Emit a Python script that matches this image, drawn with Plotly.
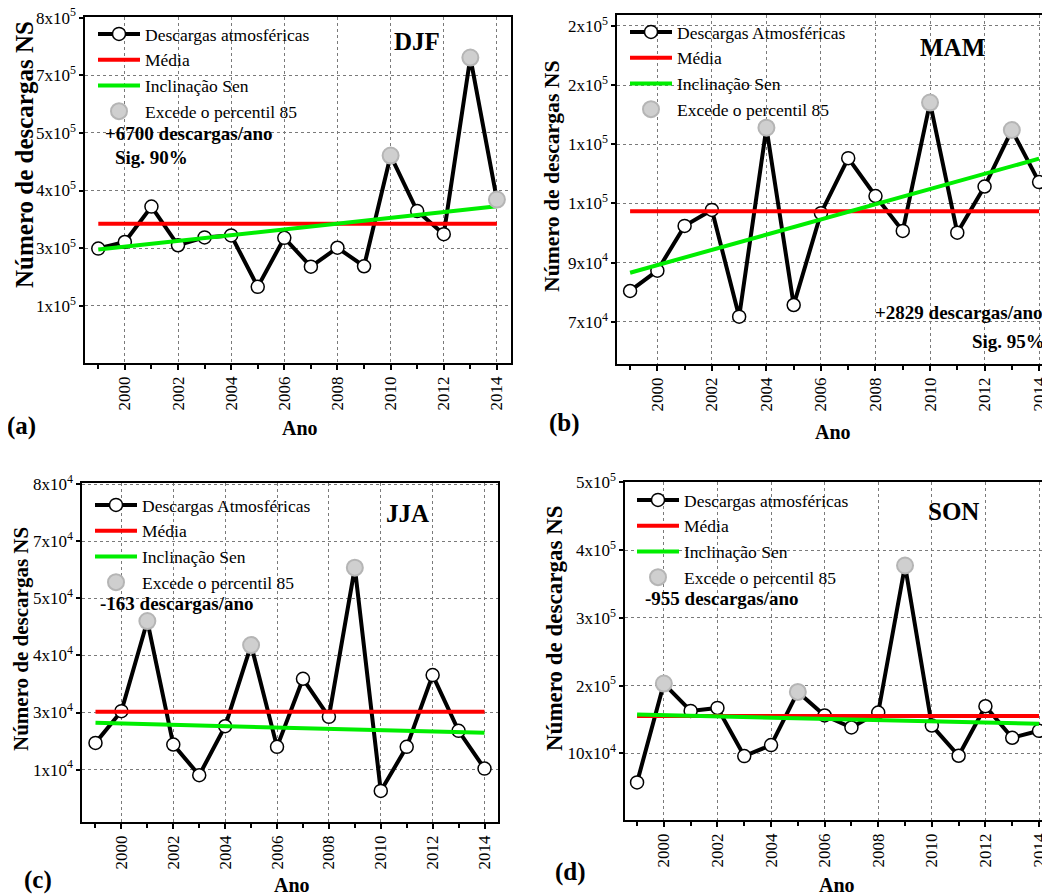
import plotly.graph_objects as go
import numpy as np

W, H = 1050, 895
OX, OY = 8, 8  # page body offset compensation
FONT = "Liberation Serif"

years = list(range(1999, 2015))

# Seasonal lightning counts
djf = [259000, 275000, 361000, 267000, 286000, 291000, 166000, 285000,
       215000, 261000, 216000, 485000, 350000, 294000, 723000, 378000]
mam = [80400, 87250, 102400, 107800, 71700, 135600, 75650, 106700,
       125300, 112500, 100700, 144100, 100100, 115700, 134800, 117200]
jja = [18550, 26330, 48430, 18140, 10610, 22640, 42540, 17570,
       34270, 24940, 61530, 6760, 17570, 35170, 21500, 12250]
son = [57300, 203100, 162800, 167200, 96100, 112300, 190800, 156000,
       138300, 160400, 377300, 141200, 96600, 169700, 123100, 133400]

# Sen slope line end values (1999, 2014)
sen_djf = [256500, 361500]
sen_mam = [86570, 125130]
sen_jja = [23460, 21010]
sen_son = [157400, 143700]

# Y tick positions and labels
yt_djf = [120000, 260000, 400000, 540000, 680000, 820000]
yl_djf = ["1x10<sup>5</sup>", "3x10<sup>5</sup>", "4x10<sup>5</sup>",
          "5x10<sup>5</sup>", "7x10<sup>5</sup>", "8x10<sup>5</sup>"]
yt_mam = [70000, 90000, 110000, 130000, 150000, 170000]
yl_mam = ["7x10<sup>4</sup>", "9x10<sup>4</sup>", "1x10<sup>5</sup>",
          "1x10<sup>5</sup>", "2x10<sup>5</sup>", "2x10<sup>5</sup>"]
yt_jja = [12000, 26000, 40000, 54000, 68000, 82000]
yl_jja = ["1x10<sup>4</sup>", "3x10<sup>4</sup>", "4x10<sup>4</sup>",
          "5x10<sup>4</sup>", "7x10<sup>4</sup>", "8x10<sup>4</sup>"]
yt_son = [100000, 200000, 300000, 400000, 500000]
yl_son = ["10x10<sup>4</sup>", "2x10<sup>5</sup>", "3x10<sup>5</sup>",
          "4x10<sup>5</sup>", "5x10<sup>5</sup>"]

series_names = ["Descargas atmosféricas", "Descargas Atmosféricas",
                "Descargas Atmosféricas", "Descargas atmosféricas"]
seasons = ["DJF", "MAM", "JJA", "SON"]
trend_texts = ["+6700 descargas/ano", "+2829 descargas/ano",
               "-163 descargas/ano", "-955 descargas/ano"]
sig_texts = ["Sig. 90%", "Sig. 95%", None, None]
panel_tags = ["(a)", "(b)", "(c)", "(d)"]


def px(x):
    return (x - OX) / W


def py(y):
    return 1 - (y - OY) / H


panels = [
    dict(vals=djf, sen=sen_djf, yt=yt_djf, yl=yl_djf,
         box=(85, 511, 17, 363), xr=[1998.5, 2014.53], yr=[-19000, 821500],
         leg=(93, 16), season=(417, 42), trend=(103, 134, "left"), sig=(113, 157, "left"),
         tag=(5, 426), ano=(300, 428), ytitle=(24, 155, 25), rmirror=True),
    dict(vals=mam, sen=sen_mam, yt=yt_mam, yl=yl_mam,
         box=(617, 1050, 15, 364), xr=[1998.52, 2014.40], yr=[55700, 173700],
         leg=(625, 14), season=(952, 48), trend=(1045, 313, "right"), sig=(1047, 342, "right"),
         tag=(547, 423), ano=(833, 432), ytitle=(552, 176, 21.7), rmirror=False),
    dict(vals=jja, sen=sen_jja, yt=yt_jja, yl=yl_jja,
         box=(82, 498, 483, 822), xr=[1998.48, 2014.52], yr=[-860, 82300],
         leg=(90, 487), season=(407, 513), trend=(98, 603, "left"), sig=None,
         tag=(22, 880), ano=(292, 885), ytitle=(21, 639, 21), rmirror=True),
    dict(vals=son, sen=sen_son, yt=yt_son, yl=yl_son,
         box=(625, 1050, 482, 820), xr=[1998.55, 2014.41], yr=[1800, 500500],
         leg=(632, 482), season=(953, 512), trend=(643, 598, "left"), sig=None,
         tag=(553, 872), ano=(837, 885), ytitle=(554, 628, 23), rmirror=False),
]

fig = go.Figure()
annotations = []
layout = dict()

for i, p in enumerate(panels):
    n = i + 1
    xa = "x" if n == 1 else f"x{n}"
    ya = "y" if n == 1 else f"y{n}"
    leg = "legend" if n == 1 else f"legend{n}"
    vals = p["vals"]
    mean_val = float(np.mean(vals))
    p85 = float(np.percentile(vals, 85))
    ex_x = [yr for yr, v in zip(years, vals) if v > p85]
    ex_y = [v for v in vals if v > p85]

    fig.add_trace(go.Scatter(
        x=years, y=vals, mode="lines+markers", name=series_names[i],
        line=dict(color="black", width=4),
        marker=dict(size=13, color="white", line=dict(color="black", width=1.5)),
        xaxis=xa, yaxis=ya, legend=leg))
    fig.add_trace(go.Scatter(
        x=[years[0], years[-1]], y=[mean_val, mean_val], mode="lines", name="Média",
        line=dict(color="#ff0000", width=4), xaxis=xa, yaxis=ya, legend=leg))
    fig.add_trace(go.Scatter(
        x=[years[0], years[-1]], y=p["sen"], mode="lines", name="Inclinação Sen",
        line=dict(color="#00ee00", width=4), xaxis=xa, yaxis=ya, legend=leg))
    fig.add_trace(go.Scatter(
        x=ex_x, y=ex_y, mode="markers", name="Excede o percentil 85",
        marker=dict(size=16, color="#cfcfcf", line=dict(color="#b5b5b5", width=2)),
        xaxis=xa, yaxis=ya, legend=leg))

    l, r, t, b = p["box"]
    xkey = "xaxis" if n == 1 else f"xaxis{n}"
    ykey = "yaxis" if n == 1 else f"yaxis{n}"
    layout[xkey] = dict(
        domain=[max(0, px(l)), min(1, px(r))], range=p["xr"], anchor=ya,
        tickmode="linear", tick0=2000, dtick=2, ticks="outside", ticklen=5,
        tickwidth=1.5, tickcolor="black", tickangle=-90,
        tickfont=dict(family=FONT, size=17, color="black"),
        showgrid=True, gridcolor="#7a7a7a", griddash="dot", gridwidth=1,
        showline=True, linecolor="black", linewidth=1.5, mirror=True,
        zeroline=False, automargin=False, ticklabeloverflow="allow",
        minor=dict(tick0=1999, dtick=1, ticks="outside", ticklen=4,
                   tickwidth=1.5, tickcolor="black", showgrid=False))
    layout[ykey] = dict(
        domain=[py(b), py(t)], range=p["yr"], anchor=xa,
        tickmode="array", tickvals=p["yt"], ticktext=p["yl"],
        ticks="outside", ticklen=4, tickwidth=1.5, tickcolor="black",
        tickfont=dict(family=FONT, size=17, color="black"),
        showgrid=True, gridcolor="#7a7a7a", griddash="dot", gridwidth=1,
        showline=True, linecolor="black", linewidth=1.5,
        mirror=True if p["rmirror"] else False, zeroline=False,
        automargin=False, ticklabeloverflow="allow")
    lx, ly = p["leg"]
    layout[leg] = dict(
        x=px(lx), y=py(ly), xanchor="left", yanchor="top",
        bgcolor="rgba(0,0,0,0)", borderwidth=0, itemwidth=42,
        font=dict(family=FONT, size=17.5, color="black"),
        tracegroupgap=0, traceorder="normal")

    sx, sy = p["season"]
    annotations.append(dict(x=px(sx), y=py(sy), xref="paper", yref="paper",
                            text=f"<b>{seasons[i]}</b>", showarrow=False,
                            xanchor="center", yanchor="middle",
                            font=dict(family=FONT, size=25, color="black")))
    tx, ty, ta = p["trend"]
    annotations.append(dict(x=px(tx), y=py(ty), xref="paper", yref="paper",
                            text=f"<b>{trend_texts[i]}</b>", showarrow=False,
                            xanchor=ta, yanchor="middle",
                            font=dict(family=FONT, size=19, color="black")))
    if p["sig"] is not None:
        gx, gy, ga = p["sig"]
        annotations.append(dict(x=px(gx), y=py(gy), xref="paper", yref="paper",
                                text=f"<b>{sig_texts[i]}</b>", showarrow=False,
                                xanchor=ga, yanchor="middle",
                                font=dict(family=FONT, size=19, color="black")))
    gx, gy = p["tag"]
    annotations.append(dict(x=px(gx), y=py(gy), xref="paper", yref="paper",
                            text=f"<b>{panel_tags[i]}</b>", showarrow=False,
                            xanchor="left", yanchor="middle",
                            font=dict(family=FONT, size=25, color="black")))
    ax_, ay_ = p["ano"]
    annotations.append(dict(x=px(ax_), y=py(ay_), xref="paper", yref="paper",
                            text="<b>Ano</b>", showarrow=False,
                            xanchor="center", yanchor="middle",
                            font=dict(family=FONT, size=20, color="black")))
    yx, yy, ys = p["ytitle"]
    annotations.append(dict(x=px(yx), y=py(yy), xref="paper", yref="paper",
                            text="<b>Número de descargas NS</b>", showarrow=False,
                            textangle=-90, xanchor="center", yanchor="middle",
                            font=dict(family=FONT, size=ys, color="black")))

fig.update_layout(
    width=W, height=H,
    margin=dict(l=0, r=0, t=0, b=0, autoexpand=False),
    font=dict(family=FONT, color="black"),
    paper_bgcolor="white", plot_bgcolor="white",
    showlegend=True,
    annotations=annotations,
    **layout)

fig.write_html("out.html")
